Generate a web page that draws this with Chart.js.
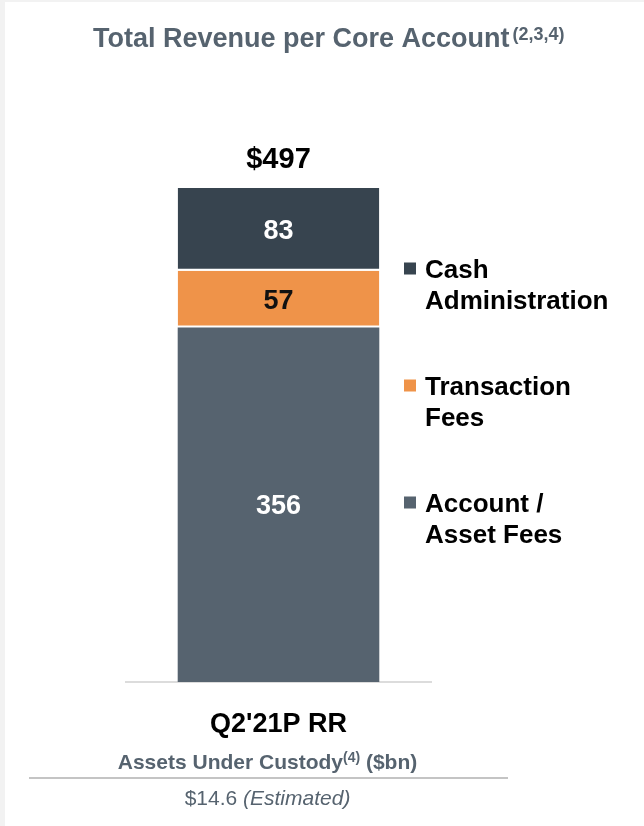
<!DOCTYPE html>
<html>
<head>
<meta charset="utf-8">
<script src="https://cdn.jsdelivr.net/npm/chart.js@4.4.1/dist/chart.umd.min.js"></script>
<style>
  html, body { margin: 0; padding: 0; width: 644px; height: 826px; overflow: hidden; background: #f2f2f2; }
  #panel { position: absolute; left: 5px; top: 2px; right: 0; bottom: 0; background: #fff; }
  #wrap { position: absolute; left: 0; top: 0; width: 644px; height: 826px; }
</style>
</head>
<body>
<div id="panel"></div>
<div id="wrap"><canvas id="chart" width="644" height="826"></canvas></div>
<script>
// data
const categories = ["Q2'21P RR"];
const seriesNames = [["Account /", "Asset Fees"], ["Transaction", "Fees"], ["Cash", "Administration"]];
const accountFees = [356];
const transactionFees = [57];
const cashAdmin = [83];
const totals = [497]; // as printed on the slide (parts are rounded)
const titleText = "Total Revenue per Core Account";
const titleNote = "(2,3,4)";
const aucLabel = ["Assets Under Custody", "(4)", " ($bn)"];
const aucValue = 14.6;
const aucNote = "(Estimated)";

const seriesColors = ["#56636f", "#ef9349", "#37444f"];
const valueColors = ["#ffffff", "#111111", "#ffffff"];
const GREY = "#56636f";
const FONT = "'Liberation Sans', Arial, sans-serif";

function font(size, weight, style) {
  return (style || "normal") + " " + (weight || "normal") + " " + size + "px " + FONT;
}

const slideText = {
  id: "slideText",
  afterDatasetsDraw(chart) {
    const ctx = chart.ctx;
    const sets = chart.data.datasets;
    ctx.save();
    ctx.textAlign = "center";
    ctx.textBaseline = "alphabetic";

    // value inside each segment
    sets.forEach((ds, i) => {
      chart.getDatasetMeta(i).data.forEach((bar, j) => {
        ctx.font = font(27, "bold");
        ctx.fillStyle = valueColors[i];
        ctx.fillText(String(ds.data[j]), bar.x, (bar.y + bar.base) / 2 + 9.5);
      });
    });

    // total on top of the stack
    chart.data.labels.forEach((lab, j) => {
      let top = Infinity, x = 0;
      sets.forEach((ds, i) => {
        const bar = chart.getDatasetMeta(i).data[j];
        top = Math.min(top, bar.y);
        x = bar.x;
      });
      ctx.font = font(29, "bold");
      ctx.fillStyle = "#000";
      ctx.fillText("$" + totals[j], x, top - 20);
    });

    // legend, top item = top segment
    ctx.textAlign = "left";
    for (let k = 0; k < sets.length; k++) {
      const i = sets.length - 1 - k;
      const base = 278 + k * 117;
      ctx.fillStyle = sets[i].backgroundColor;
      ctx.fillRect(404, base - 15.5, 12, 12);
      ctx.font = font(26, "bold");
      ctx.fillStyle = "#000";
      seriesNames[i].forEach((line, n) => ctx.fillText(line, 425, base + n * 31));
    }

    // title
    ctx.fillStyle = GREY;
    ctx.font = font(27, "bold");
    ctx.fillText(titleText, 93, 47);
    const tw = ctx.measureText(titleText).width;
    ctx.font = font(18, "bold");
    ctx.fillText(titleNote, 93 + tw + 3, 40);

    // assets under custody footer
    const cx = 267.5;
    const parts = [[aucLabel[0], font(21, "bold"), 0], [aucLabel[1], font(14, "bold"), -7], [aucLabel[2], font(21, "bold"), 0]];
    let w = 0;
    parts.forEach(p => { ctx.font = p[1]; w += ctx.measureText(p[0]).width; });
    let px = cx - w / 2;
    parts.forEach(p => { ctx.font = p[1]; ctx.fillText(p[0], px, 769 + p[2]); px += ctx.measureText(p[0]).width; });

    ctx.strokeStyle = "#c4c4c4";
    ctx.lineWidth = 2;
    ctx.beginPath();
    ctx.moveTo(29, 778);
    ctx.lineTo(508, 778);
    ctx.stroke();

    const v1 = "$" + aucValue.toFixed(1) + " ";
    ctx.font = font(21);
    const w1 = ctx.measureText(v1).width;
    ctx.font = font(21, "normal", "italic");
    const w2 = ctx.measureText(aucNote).width;
    px = cx - (w1 + w2) / 2;
    ctx.font = font(21);
    ctx.fillText(v1, px, 805);
    ctx.font = font(21, "normal", "italic");
    ctx.fillText(aucNote, px + w1, 805);

    ctx.restore();
  }
};

function series(label, data, idx, gap) {
  return {
    label: label.join(" "),
    data: data,
    backgroundColor: seriesColors[idx],
    borderColor: "#ffffff",
    borderWidth: { top: 0, left: 0, right: 0, bottom: gap },
    borderSkipped: false,
    barPercentage: 0.661,
    categoryPercentage: 1
  };
}

new Chart(document.getElementById("chart"), {
  type: "bar",
  data: {
    labels: categories,
    datasets: [
      series(seriesNames[0], accountFees, 0, 0),
      series(seriesNames[1], transactionFees, 1, 2),
      series(seriesNames[2], cashAdmin, 2, 2)
    ]
  },
  options: {
    responsive: false,
    animation: false,
    devicePixelRatio: 1,
    layout: { padding: { left: 126, right: 213, top: 184, bottom: 84 } },
    plugins: { legend: { display: false }, tooltip: { enabled: false } },
    scales: {
      x: {
        stacked: true,
        offset: true,
        grid: { display: false },
        border: { display: true, color: "#dcdcdc", width: 2 },
        ticks: { color: "#000", padding: 18, font: { family: FONT, size: 27, weight: "bold" } },
        afterFit(scale) { scale.height = 60; }
      },
      y: { stacked: true, display: false, min: 0, max: 500 }
    }
  },
  plugins: [slideText]
});
</script>
</body>
</html>
